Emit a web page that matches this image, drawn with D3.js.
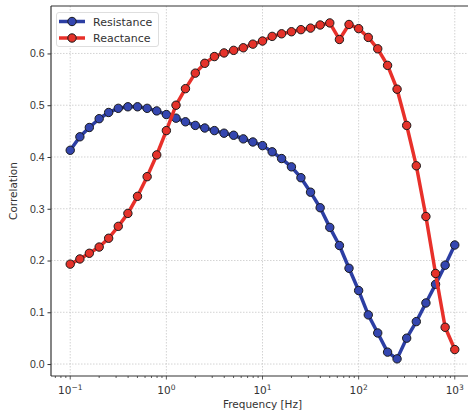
<!DOCTYPE html>
<html>
<head>
<meta charset="utf-8">
<script src="https://cdn.jsdelivr.net/npm/d3@7"></script>
<style>
  body { margin: 0; background: #fff; }
  svg { display: block; font-family: "DejaVu Sans", sans-serif; }
</style>
</head>
<body>
<div id="chart"></div>
<script>
// frequencies (Hz), 10 points per decade
const freqs = [0.1, 0.126, 0.158, 0.2, 0.251, 0.316, 0.398, 0.501, 0.631, 0.794,
  1, 1.26, 1.58, 2, 2.51, 3.16, 3.98, 5.01, 6.31, 7.94,
  10, 12.6, 15.8, 20, 25.1, 31.6, 39.8, 50.1, 63.1, 79.4,
  100, 126, 158, 200, 251, 316, 398, 501, 631, 794, 1000];

const resistance = [0.413, 0.439, 0.457, 0.474, 0.486, 0.494, 0.497, 0.497, 0.494, 0.489,
  0.482, 0.475, 0.468, 0.461, 0.456, 0.451, 0.446, 0.442, 0.435, 0.429,
  0.422, 0.410, 0.397, 0.381, 0.360, 0.332, 0.302, 0.264, 0.229, 0.185,
  0.142, 0.095, 0.060, 0.023, 0.010, 0.050, 0.082, 0.118, 0.154, 0.191, 0.230];

const reactance = [0.193, 0.203, 0.214, 0.226, 0.243, 0.266, 0.291, 0.324, 0.362, 0.404,
  0.451, 0.500, 0.532, 0.562, 0.581, 0.594, 0.601, 0.606, 0.611, 0.618,
  0.624, 0.633, 0.638, 0.642, 0.646, 0.649, 0.655, 0.659, 0.627, 0.656,
  0.648, 0.631, 0.609, 0.577, 0.531, 0.461, 0.383, 0.285, 0.175, 0.071, 0.028];

const xTicks = [0.1, 1, 10, 100, 1000];
const xTickExp = ["\u22121", "0", "1", "2", "3"];
const yTicks = [0.0, 0.1, 0.2, 0.3, 0.4, 0.5, 0.6];

const series = [
  { name: "Resistance", values: resistance, line: "#2c3ea3", fill: "#3446b0" },
  { name: "Reactance", values: reactance, line: "#e8302a", fill: "#e5322a" }
];

const W = 468, H = 417;
const pLeft = 51, pTop = 6, pRight = 474, pBottom = 376;

const svg = d3.select("#chart").append("svg")
  .attr("width", W).attr("height", H);

const x = d3.scaleLog().domain([Math.pow(10, -1.2), Math.pow(10, 3.2)]).range([pLeft, pRight]);
const y = d3.scaleLinear().domain([-0.0231, 0.6917]).range([pBottom, pTop]);

// grid
const grid = svg.append("g");
xTicks.forEach(t => {
  grid.append("line")
    .attr("x1", x(t)).attr("x2", x(t)).attr("y1", pTop).attr("y2", pBottom)
    .attr("stroke", "#c8c8c8").attr("stroke-width", 0.8).attr("stroke-dasharray", "1.5,1.5");
});
yTicks.forEach(t => {
  grid.append("line")
    .attr("x1", pLeft).attr("x2", W).attr("y1", y(t)).attr("y2", y(t))
    .attr("stroke", "#c8c8c8").attr("stroke-width", 0.8).attr("stroke-dasharray", "1.5,1.5");
});

// clip for data
svg.append("clipPath").attr("id", "clip")
  .append("rect").attr("x", pLeft).attr("y", pTop).attr("width", pRight - pLeft).attr("height", pBottom - pTop);

const plot = svg.append("g").attr("clip-path", "url(#clip)");

const line = d3.line()
  .x((d, i) => x(freqs[i]))
  .y(d => y(d));

series.forEach(s => {
  plot.append("path")
    .datum(s.values)
    .attr("fill", "none")
    .attr("stroke", s.line)
    .attr("stroke-width", 3.5)
    .attr("stroke-linejoin", "round")
    .attr("d", line);
  plot.selectAll(null)
    .data(s.values)
    .enter()
    .append("circle")
    .attr("cx", (d, i) => x(freqs[i]))
    .attr("cy", d => y(d))
    .attr("r", 4.2)
    .attr("fill", s.fill)
    .attr("stroke", "#1a1a1a")
    .attr("stroke-width", 1);
});

// axes
const yAxis = d3.axisLeft(y).tickValues(yTicks).tickFormat(d3.format(".1f")).tickSize(3.5).tickPadding(3);
const yg = svg.append("g").attr("transform", `translate(${pLeft},0)`).call(yAxis);
yg.select(".domain").remove();
yg.selectAll("text").attr("font-size", 10.5).attr("fill", "#333");
yg.selectAll("line").attr("stroke", "#333");

// x minor ticks
const minor = [];
[0.1, 1, 10, 100, 1000].forEach(d => {
  for (let k = 2; k <= 9; k++) minor.push(d * k);
});
[0.07, 0.08, 0.09].forEach(v => minor.push(v));
const xg = svg.append("g").attr("transform", `translate(0,${pBottom})`);
minor.filter(v => x(v) >= pLeft && x(v) <= W).forEach(v => {
  xg.append("line").attr("x1", x(v)).attr("x2", x(v)).attr("y1", 0).attr("y2", 2)
    .attr("stroke", "#333").attr("stroke-width", 0.8);
});
xTicks.forEach((t, i) => {
  xg.append("line").attr("x1", x(t)).attr("x2", x(t)).attr("y1", 0).attr("y2", 3.5)
    .attr("stroke", "#333").attr("stroke-width", 0.8);
  const txt = xg.append("text")
    .attr("x", x(t)).attr("y", 18)
    .attr("text-anchor", "middle")
    .attr("font-size", 10.5).attr("fill", "#333");
  txt.append("tspan").text("10");
  txt.append("tspan").attr("dy", -4.5).attr("font-size", 7.5).text(xTickExp[i]);
});

// frame
svg.append("line").attr("x1", pLeft).attr("x2", W).attr("y1", pTop).attr("y2", pTop)
  .attr("stroke", "#333").attr("stroke-width", 1.2);
svg.append("line").attr("x1", pLeft).attr("x2", W).attr("y1", pBottom).attr("y2", pBottom)
  .attr("stroke", "#333").attr("stroke-width", 1.2);
svg.append("line").attr("x1", pLeft).attr("x2", pLeft).attr("y1", pTop).attr("y2", pBottom)
  .attr("stroke", "#333").attr("stroke-width", 1.2);

// axis labels
svg.append("text")
  .attr("x", x(10)).attr("y", 408)
  .attr("text-anchor", "middle")
  .attr("font-size", 10.5).attr("fill", "#333")
  .text("Frequency [Hz]");
svg.append("text")
  .attr("transform", `translate(17,${(pTop + pBottom) / 2}) rotate(-90)`)
  .attr("text-anchor", "middle")
  .attr("font-size", 10.5).attr("fill", "#333")
  .text("Correlation");

// legend
const lg = svg.append("g");
lg.append("rect")
  .attr("x", 56.5).attr("y", 12.5).attr("width", 102).attr("height", 34)
  .attr("rx", 2.5)
  .attr("fill", "#fff").attr("fill-opacity", 0.85)
  .attr("stroke", "#d6d6d6").attr("stroke-width", 0.8);
series.forEach((s, i) => {
  const yy = 21.5 + i * 16.5;
  lg.append("line").attr("x1", 59).attr("x2", 85).attr("y1", yy).attr("y2", yy)
    .attr("stroke", s.line).attr("stroke-width", 3.5);
  lg.append("circle").attr("cx", 72).attr("cy", yy).attr("r", 4.2)
    .attr("fill", s.fill).attr("stroke", "#1a1a1a").attr("stroke-width", 1);
  lg.append("text").attr("x", 93).attr("y", yy + 4)
    .attr("font-size", 11).attr("fill", "#333").text(s.name);
});
</script>
</body>
</html>
